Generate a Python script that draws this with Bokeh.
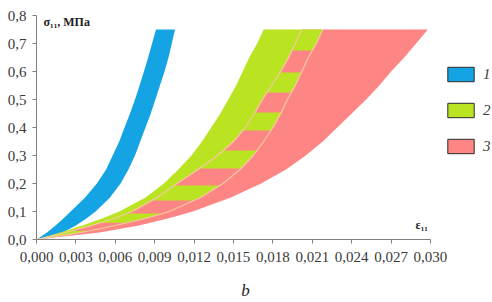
import numpy as np
from bokeh.plotting import figure
from bokeh.models import Range1d, FixedTicker, Label, Legend, LegendItem
from bokeh.embed import file_html
from bokeh.resources import INLINE

# ---- data ----
sigma = [0, 0.025, 0.05, 0.075, 0.1, 0.15, 0.2, 0.25, 0.3, 0.35, 0.4, 0.45,
         0.5, 0.55, 0.6, 0.65, 0.7, 0.75]
# band 1 (blue)
eps1_lo = [0, 0.0008, 0.00145, 0.00205, 0.0026, 0.0037, 0.0046, 0.0053, 0.0058,
           0.0063, 0.0067, 0.00712, 0.0075, 0.00785, 0.00818, 0.0085, 0.0088, 0.0091]
eps1_hi = [0, 0.0020, 0.0030, 0.0038, 0.0045, 0.0056, 0.0064, 0.0070, 0.0075,
           0.0079, 0.0083, 0.0087, 0.00905, 0.0094, 0.00975, 0.01005, 0.0103, 0.01055]
# band 2 (green)
eps2_lo = [0, 0.0018, 0.0035, 0.0050, 0.0063, 0.0083, 0.0097, 0.0108, 0.0118,
           0.0126, 0.0133, 0.0140, 0.0146, 0.0152, 0.0157, 0.0162, 0.0168, 0.0173]
eps2_hi = [0, 0.0034, 0.0060, 0.0083, 0.0101, 0.0125, 0.0142, 0.0155, 0.0165,
           0.0173, 0.0180, 0.0186, 0.0191, 0.0197, 0.0202, 0.0207, 0.0213, 0.0218]
# band 3 (pink)
eps3_lo = [0, 0.0022, 0.0042, 0.0059, 0.0073, 0.0092, 0.0107, 0.0123, 0.0138,
           0.0150, 0.0159, 0.0166, 0.0172, 0.0179, 0.0186, 0.0192, 0.0197, 0.0202]
eps3_hi = [0, 0.0048, 0.0078, 0.0100, 0.0119, 0.0148, 0.0171, 0.0190, 0.0205,
           0.0218, 0.0229, 0.0240, 0.0251, 0.0261, 0.0270, 0.0280, 0.0289, 0.0298]
# horizontal pink stripes in the overlap of bands 2 and 3
stripe_lo = [0.03, 0.093, 0.193, 0.318, 0.454, 0.596]
stripe_hi = [0.06, 0.139, 0.254, 0.389, 0.525, 0.675]

series_labels = ["1", "2", "3"]
x_ticks = [0.0, 0.003, 0.006, 0.009, 0.012, 0.015, 0.018, 0.021, 0.024, 0.027, 0.030]
x_tick_labels = ["0,000", "0,003", "0,006", "0,009", "0,012", "0,015", "0,018",
                 "0,021", "0,024", "0,027", "0,030"]
y_ticks = [0.0, 0.1, 0.2, 0.3, 0.4, 0.5, 0.6, 0.7, 0.8]
y_tick_labels = ["0,0", "0,1", "0,2", "0,3", "0,4", "0,5", "0,6", "0,7", "0,8"]

BLUE = "#15a4e3"
GREEN = "#bae421"
PINK = "#fd8684"
THIN = "#f6c9a4"
AXIS = "#808080"
TXT = "#3a3a3a"
FONT = "Liberation Serif"

p = figure(width=492, height=302,
           x_range=Range1d(0, 0.034721), y_range=Range1d(0, 0.8),
           output_backend="svg", toolbar_location=None,
           min_border_left=36, min_border_right=0,
           min_border_top=15, min_border_bottom=63)
p.outline_line_color = None
p.grid.visible = False
p.background_fill_color = "white"
p.border_fill_color = "white"

# bands
p.harea(x1=eps1_lo, x2=eps1_hi, y=sigma, fill_color=BLUE)
p.harea(x1=eps3_lo, x2=eps3_hi, y=sigma, fill_color=PINK)
p.harea(x1=eps2_lo, x2=eps2_hi, y=sigma, fill_color=GREEN)
for lo, hi in zip(stripe_lo, stripe_hi):
    yy = np.linspace(lo, hi, 24)
    p.harea(x1=np.interp(yy, sigma, eps3_lo), x2=np.interp(yy, sigma, eps2_hi),
            y=yy, fill_color=PINK)
p.line(eps3_lo, sigma, line_color=THIN, line_width=1.2)
p.line(eps2_hi, sigma, line_color=THIN, line_width=1.2)

# axes
xa = p.xaxis[0]
xa.bounds = (0, 0.030)
xa.ticker = FixedTicker(ticks=x_ticks)
xa.major_label_overrides = {t: l for t, l in zip(x_ticks, x_tick_labels)}
ya = p.yaxis[0]
ya.ticker = FixedTicker(ticks=y_ticks)
ya.major_label_overrides = {t: l for t, l in zip(y_ticks, y_tick_labels)}
for ax in (xa, ya):
    ax.axis_line_color = AXIS
    ax.major_tick_line_color = AXIS
    ax.minor_tick_line_color = None
    ax.major_tick_in = 0
    ax.major_tick_out = 4
    ax.major_label_text_font = FONT
    ax.major_label_text_font_size = "15px"
    ax.major_label_text_color = TXT
xa.major_label_standoff = 8
ya.major_label_standoff = 6
# caption "b" under the x axis
xa.axis_label = "b" + "\u00a0" * 9
xa.axis_label_standoff = 16
xa.axis_label_text_font = FONT
xa.axis_label_text_font_style = "italic"
xa.axis_label_text_font_size = "17px"
xa.axis_label_text_color = "#222222"

# legend (dummy renderers with NaN data give bordered swatches)
items = []
for lab, col in zip(series_labels, [BLUE, GREEN, PINK]):
    r = p.quad(left=[np.nan], right=[np.nan], top=[np.nan], bottom=[np.nan],
               fill_color=col, line_color="#2a2a2a", line_width=1)
    items.append(LegendItem(label=lab, renderers=[r]))
leg = Legend(items=items, location=(408, 84), orientation="vertical",
             glyph_width=33, glyph_height=18, label_height=18, spacing=18,
             label_standoff=6, padding=0, margin=0,
             border_line_color=None, background_fill_alpha=0,
             label_text_font=FONT, label_text_font_style="italic",
             label_text_font_size="15px", label_text_color=TXT)
p.add_layout(leg)

# titles
p.add_layout(Label(x=7, y=211, x_units="screen", y_units="screen",
                   text="σ₁₁, МПа", text_font=FONT, text_font_style="bold",
                   text_font_size="12px", text_color="#222222"))
p.add_layout(Label(x=379, y=8, x_units="screen", y_units="screen",
                   text="ε₁₁", text_font=FONT, text_font_style="bold",
                   text_font_size="12px", text_color="#222222"))

open("out.html", "w").write(file_html(p, INLINE))
